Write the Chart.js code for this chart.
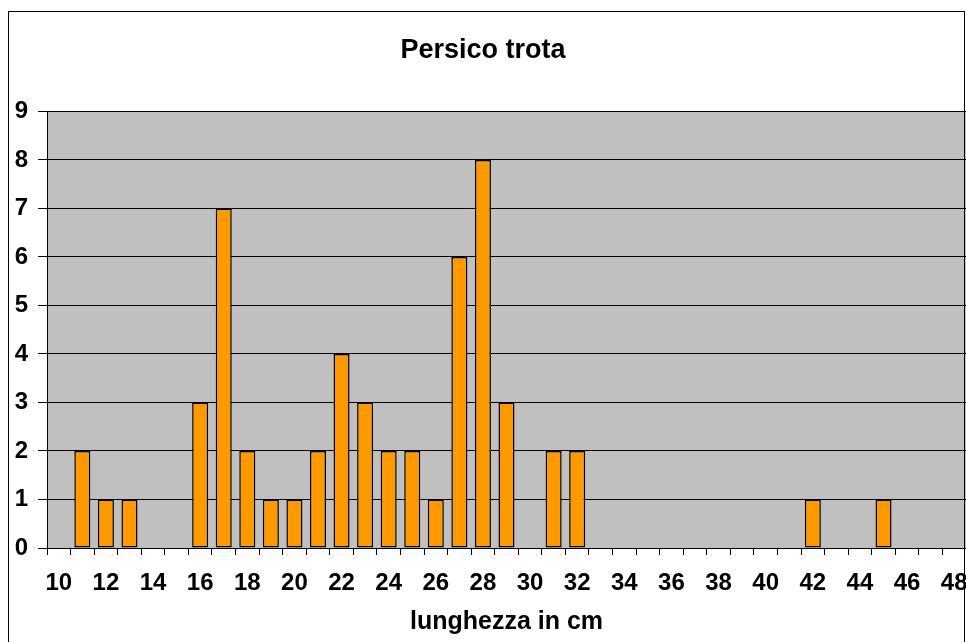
<html>
    <head>
        <script src="https://cdn.jsdelivr.net/npm/chart.js@4"></script>
        <style>
            body { margin: 0; background: #fff; overflow: hidden; width: 966px; height: 642px; position: relative; }
            #frame { position: absolute; left: 8px; top: 11px; width: 955px; height: 700px; border: 1px solid #000; pointer-events: none; }
            #plot { position: absolute; left: 0; top: 0; }
        </style>
    </head>

    <body>
        <canvas id="plot" width="990" height="642"></canvas>
        <div id="frame"></div>

        <script>
            // data
            const lengths = ['10', '11', '12', '13', '14', '15', '16', '17', '18', '19',
                             '20', '21', '22', '23', '24', '25', '26', '27', '28', '29',
                             '30', '31', '32', '33', '34', '35', '36', '37', '38', '39',
                             '40', '41', '42', '43', '44', '45', '46', '47', '48'];
            const counts = [0, 2, 1, 1, 0, 0, 3, 7, 2, 1,
                            1, 2, 4, 3, 2, 2, 1, 6, 8, 3,
                            0, 2, 2, 0, 0, 0, 0, 0, 0, 0,
                            0, 0, 1, 0, 0, 1, 0, 0, 0];
            const yTicks = [0, 1, 2, 3, 4, 5, 6, 7, 8, 9];

            const fontFamily = '"Liberation Sans", Arial, sans-serif';

            // gray plot area
            const plotBackground = {
                id: 'plotBackground',
                beforeDraw(chart) {
                    const {ctx, chartArea} = chart;
                    ctx.save();
                    ctx.fillStyle = '#C0C0C0';
                    ctx.fillRect(chartArea.left, chartArea.top, chartArea.right - chartArea.left, chartArea.bottom - chartArea.top);
                    ctx.restore();
                }
            };

            const chart = new Chart(document.getElementById('plot'), {
                type: 'bar',
                data: {
                    labels: lengths,
                    datasets: [{
                        data: counts.map(v => v || null),
                        backgroundColor: '#FF9900',
                        borderColor: '#000',
                        borderWidth: 1.5,
                        borderSkipped: false,
                        categoryPercentage: 1,
                        barPercentage: 0.68
                    }]
                },
                options: {
                    responsive: false,
                    animation: false,
                    devicePixelRatio: 1,
                    layout: { padding: { left: 0, right: 24, top: 0, bottom: 0 } },
                    plugins: {
                        legend: { display: false },
                        tooltip: { enabled: false },
                        title: {
                            display: true,
                            text: 'Persico trota',
                            color: '#000',
                            font: { family: fontFamily, size: 27, weight: 'bold' },
                            padding: { top: 34, bottom: 45 }
                        }
                    },
                    scales: {
                        x: {
                            afterFit: s => { s.height = 94; },
                            grid: { offset: true, drawOnChartArea: false, drawTicks: true, tickLength: 7, color: '#000' },
                            border: { display: true, color: '#000' },
                            ticks: {
                                autoSkip: false,
                                maxRotation: 0,
                                padding: 14,
                                color: '#000',
                                font: { family: fontFamily, size: 24, weight: 'bold' },
                                callback: (v, i) => (i % 2 === 0 ? lengths[i] : '')
                            },
                            title: {
                                display: true,
                                text: 'lunghezza in cm',
                                color: '#000',
                                font: { family: fontFamily, size: 25, weight: 'bold' },
                                padding: { top: 0, bottom: 5 }
                            }
                        },
                        y: {
                            min: yTicks[0],
                            max: yTicks[yTicks.length - 1],
                            afterFit: s => { s.width = 47; },
                            afterBuildTicks: s => { s.ticks = yTicks.map(v => ({ value: v })); },
                            grid: { color: '#000', lineWidth: 1, tickLength: 9 },
                            border: { display: true, color: '#000' },
                            ticks: {
                                padding: 10,
                                color: '#000',
                                font: { family: fontFamily, size: 24, weight: 'bold' }
                            }
                        }
                    }
                },
                plugins: [plotBackground]
            });
        </script>
    </body>
</html>
